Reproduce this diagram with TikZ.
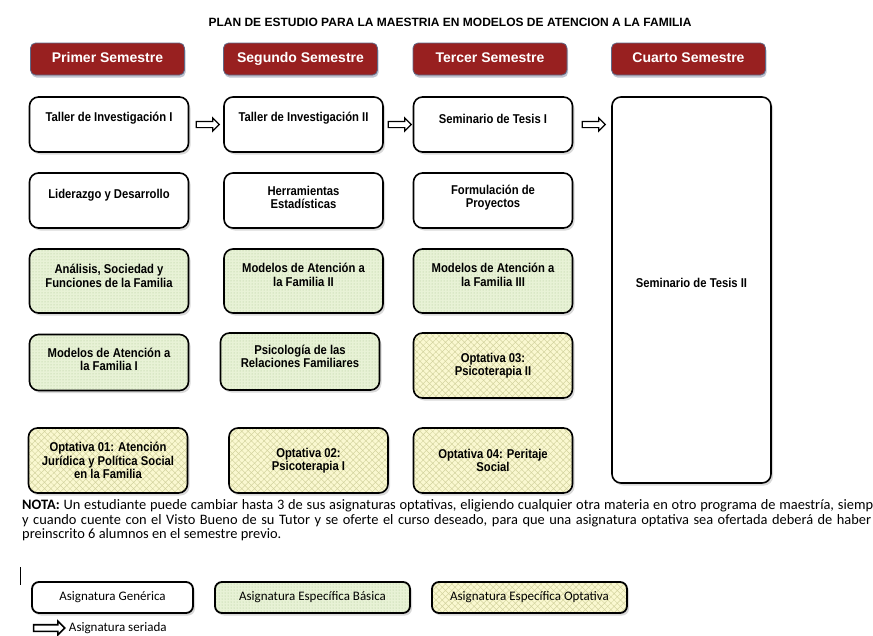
\documentclass[tikz,border=0pt]{standalone}
\usepackage{fontspec}
\setmainfont{Liberation Sans}
\newfontfamily\matfont[FakeStretch=0.88]{Liberation Sans}
\newfontfamily\notafont{Carlito}
\usetikzlibrary{positioning,shadows,patterns.meta,shapes.arrows}

\definecolor{semred}{RGB}{152,32,32}
\definecolor{semline}{RGB}{95,105,135}
\definecolor{basicafill}{RGB}{232,242,214}
\definecolor{basicadot}{RGB}{170,198,145}
\definecolor{optfill}{RGB}{250,248,208}
\definecolor{opthatch}{RGB}{212,212,160}

\begin{document}
\begin{tikzpicture}[x=1pt,y=-1pt,
    semestre/.style={rectangle, rounded corners=5pt, fill=semred, draw=semline, line width=0.8pt,
        text=white, font=\bfseries\fontsize{14}{16}\selectfont, minimum width=154pt, minimum height=32pt,
        text height=10pt, text depth=3pt,
        drop shadow={opacity=0.4, fill=semline, shadow xshift=1pt, shadow yshift=-2.5pt}},
    caja/.style={rectangle, rounded corners=9pt, draw=black, line width=1.6pt, minimum width=159pt,
        drop shadow={opacity=0.3, shadow xshift=2pt, shadow yshift=-2.5pt}},
    generica/.style={caja, fill=white},
    basica/.style={caja, preaction={fill=basicafill}, pattern={Dots[distance=3pt,radius=0.5pt]}, pattern color=basicadot},
    optativa/.style={caja, preaction={fill=optfill}, pattern={Hatch[angle=45,distance=4.5pt,line width=0.5pt]}, pattern color=opthatch},
    mattext/.style={align=center, inner sep=0pt, font=\matfont\bfseries\fontsize{12.8}{13.5}\selectfont},
    seriada/.style={single arrow, draw=black, fill=white, line width=1.2pt, minimum height=23pt,
        single arrow head extend=3.5pt, inner sep=2.5pt},
    leyenda/.style={rectangle, rounded corners=7pt, draw=black, line width=1.8pt, minimum height=31pt,
        font=\notafont\fontsize{13}{15}\selectfont, drop shadow={opacity=0.3, shadow xshift=2pt, shadow yshift=-2.5pt}},
    nota/.style={anchor=west, inner sep=0pt, font=\notafont\fontsize{14.4}{15}\selectfont},
  ]
    \newcommand\materia[6]{% {<name>}{<style>}{<center>}{<height>}{<text-shift>}{<text>}
        \node[#2, minimum height=#4] (#1) at #3 {};
        \node[mattext, yshift=#5] (#1-txt) at (#1.center) {#6};
    }
    \useasboundingbox (0,0) rectangle (873,635);

    \node[font=\bfseries\fontsize{12}{14}\selectfont] (titulo) at (450,22)
        {PLAN DE ESTUDIO PARA LA MAESTRIA EN MODELOS DE ATENCION A LA FAMILIA};

    \node[semestre] (sem-a) at (107.5,59) {Primer Semestre};
    \node[semestre] (sem-b) at (300.5,59) {Segundo Semestre};
    \node[semestre] (sem-c) at (490,59) {Tercer Semestre};
    \node[semestre] (sem-d) at (688.5,59) {Cuarto Semestre};

    \materia{tal1}{generica}{(109,124.5)}{55pt}{6pt}{Taller de Investigación I}
    \materia{tal2}{generica}{(303.5,124.5)}{55pt}{6pt}{Taller de Investigación II}
    \materia{tes1}{generica}{(493,124.5)}{55pt}{6pt}{Seminario de Tesis I}
    \materia{tes2}{generica}{(691.5,290)}{386pt}{7pt}{Seminario de Tesis II}

    \materia{lid}{generica}{(109,200.5)}{55pt}{5pt}{Liderazgo y Desarrollo}
    \materia{her}{generica}{(303.5,200.5)}{55pt}{3pt}{Herramientas\\Estadísticas}
    \materia{form}{generica}{(493,200.5)}{55pt}{3pt}{Formulación de\\Proyectos}

    \materia{ana}{basica}{(109,281)}{64pt}{5pt}{Análisis, Sociedad y\\Funciones de la Familia}
    \materia{mod2}{basica}{(303.5,281)}{64pt}{6pt}{Modelos de Atención a\\la Familia II}
    \materia{mod3}{basica}{(493,281)}{64pt}{6pt}{Modelos de Atención a\\la Familia III}

    \materia{mod1}{basica}{(109,362.5)}{56pt}{3pt}{Modelos de Atención a\\la Familia I}
    \materia{psi}{basica}{(300,361.5)}{57pt}{5pt}{Psicología de las\\Relaciones Familiares}
    \materia{opt3}{optativa}{(493,365.5)}{65pt}{0pt}{Optativa 03:\\Psicoterapia II}

    \materia{opt1}{optativa}{(108,460.5)}{65pt}{0pt}{Optativa 01: Atención\\Jurídica y Política Social\\en la Familia}
    \materia{opt2}{optativa}{(308.5,460.5)}{65pt}{0pt}{Optativa 02:\\Psicoterapia I}
    \materia{opt4}{optativa}{(493,460.5)}{65pt}{0pt}{Optativa 04: Peritaje\\Social}

    \path (tal1) -- node[seriada] (ser-a) {} (tal2);
    \path (tal2) -- node[seriada] (ser-b) {} (tes1);
    \path (tes1.east) -- node[seriada] (ser-c) {} (tes1.east -| tes2.west);

    \node[nota] (nota1) at (22,506) {\makebox[851pt][s]{\textbf{NOTA:} Un estudiante puede cambiar hasta 3 de sus asignaturas optativas, eligiendo cualquier otra materia en otro programa de maestría, siemp}};
    \node[nota] (nota2) at (22,520.5) {\makebox[849pt][s]{y cuando cuente con el Visto Bueno de su Tutor y se oferte el curso deseado, para que una asignatura optativa sea ofertada deberá de haber}};
    \node[nota] (nota3) at (22,535) {preinscrito 6 alumnos en el semestre previo.};

    \draw[line width=1pt] (20,567) -- (20,585);

    \node[leyenda, fill=white, minimum width=161pt] (ley-a) at (112.5,597.5) {Asignatura Genérica};
    \node[leyenda, preaction={fill=basicafill}, pattern={Dots[distance=3pt,radius=0.5pt]}, pattern color=basicadot,
        minimum width=195pt] (ley-b) at (312.5,597.5) {Asignatura Específica Básica};
    \node[leyenda, preaction={fill=optfill}, pattern={Hatch[angle=45,distance=4.5pt,line width=0.5pt]}, pattern color=opthatch,
        minimum width=195pt] (ley-c) at (529.5,597.5) {Asignatura Específica Optativa};

    \node[seriada, minimum height=31pt, line width=1.6pt] (ley-ser) at (47.5,628) {};
    \node[right=3pt of ley-ser, inner sep=0pt, font=\notafont\fontsize{13}{15}\selectfont] (ley-ser-txt) {Asignatura seriada};
\end{tikzpicture}
\end{document}
